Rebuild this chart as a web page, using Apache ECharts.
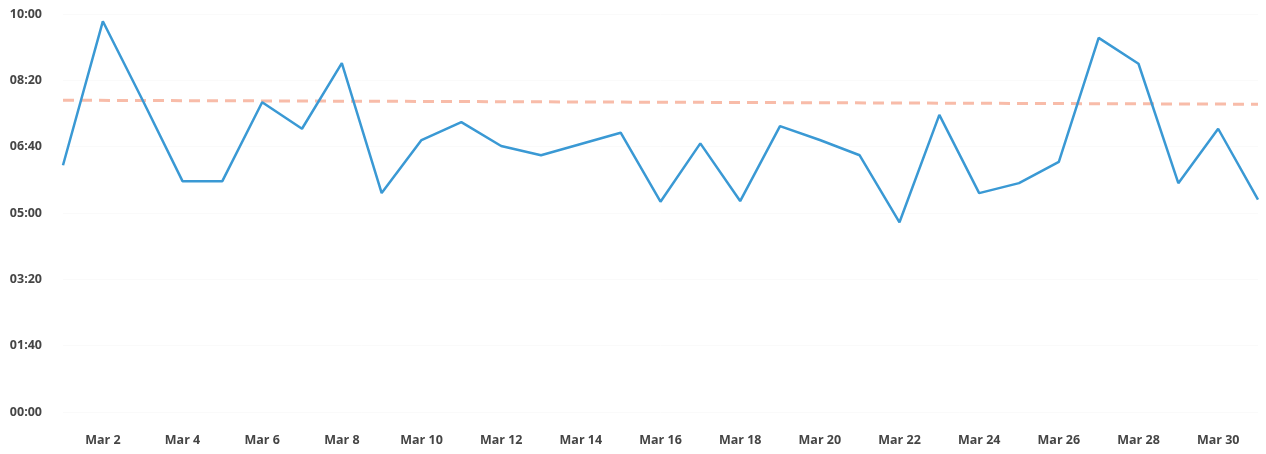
<!DOCTYPE html>
<html>
<head>
<meta charset="utf-8">
<script src="https://cdn.jsdelivr.net/npm/echarts@6/dist/echarts.min.js"></script>
<style>
  html, body { margin: 0; padding: 0; background: #fff; }
  #chart { width: 1266px; height: 454px; }
</style>
</head>
<body>
<div id="chart"></div>
<script>
// Daily durations for March, in seconds
const days = ['Mar 1','Mar 2','Mar 3','Mar 4','Mar 5','Mar 6','Mar 7','Mar 8','Mar 9','Mar 10',
  'Mar 11','Mar 12','Mar 13','Mar 14','Mar 15','Mar 16','Mar 17','Mar 18','Mar 19','Mar 20',
  'Mar 21','Mar 22','Mar 23','Mar 24','Mar 25','Mar 26','Mar 27','Mar 28','Mar 29','Mar 30','Mar 31'];
const durations = [372, 589, 470, 348, 348, 467, 427, 526, 330, 410,
  437, 401, 387, 404, 421, 317, 405, 318, 431, 410,
  387, 286, 448, 330, 345, 377, 564, 525, 345, 427, 320];
// Reference line: value at first day and at last day
const targetEnds = [470, 464];

const targetData = days.map((d, i) =>
  i === 0 ? targetEnds[0] : (i === days.length - 1 ? targetEnds[1] : '-'));

function mmss(v) {
  const m = Math.floor(v / 60), s = Math.round(v % 60);
  return String(m).padStart(2, '0') + ':' + String(s).padStart(2, '0');
}

const labelStyle = {
  color: '#454545',
  fontFamily: 'Open Sans',
  fontWeight: 'bold',
  fontSize: 12.5
};

const chart = echarts.init(document.getElementById('chart'), null, { renderer: 'canvas' });
chart.setOption({
  animation: false,
  grid: { left: 63, right: 8, top: 14, bottom: 42 },
  xAxis: {
    type: 'category',
    data: days,
    boundaryGap: false,
    axisLine: { show: false },
    axisTick: { show: false },
    axisLabel: Object.assign({ interval: (i) => i % 2 === 1, margin: 22 }, labelStyle),
    splitLine: { show: false }
  },
  yAxis: {
    type: 'value',
    min: 0,
    max: 600,
    interval: 100,
    axisLine: { show: false },
    axisTick: { show: false },
    axisLabel: Object.assign({ formatter: mmss, margin: 21 }, labelStyle),
    splitLine: { lineStyle: { color: '#fafafa', width: 1 } }
  },
  series: [
    {
      name: 'Target',
      type: 'line',
      data: targetData,
      connectNulls: true,
      symbol: 'none',
      lineStyle: { color: '#f8bca9', width: 3, type: [11, 7] },
      z: 1
    },
    {
      name: 'Duration',
      type: 'line',
      data: durations,
      symbol: 'none',
      lineStyle: { color: '#3a99d4', width: 2.5 },
      z: 2
    }
  ]
});
</script>
</body>
</html>
